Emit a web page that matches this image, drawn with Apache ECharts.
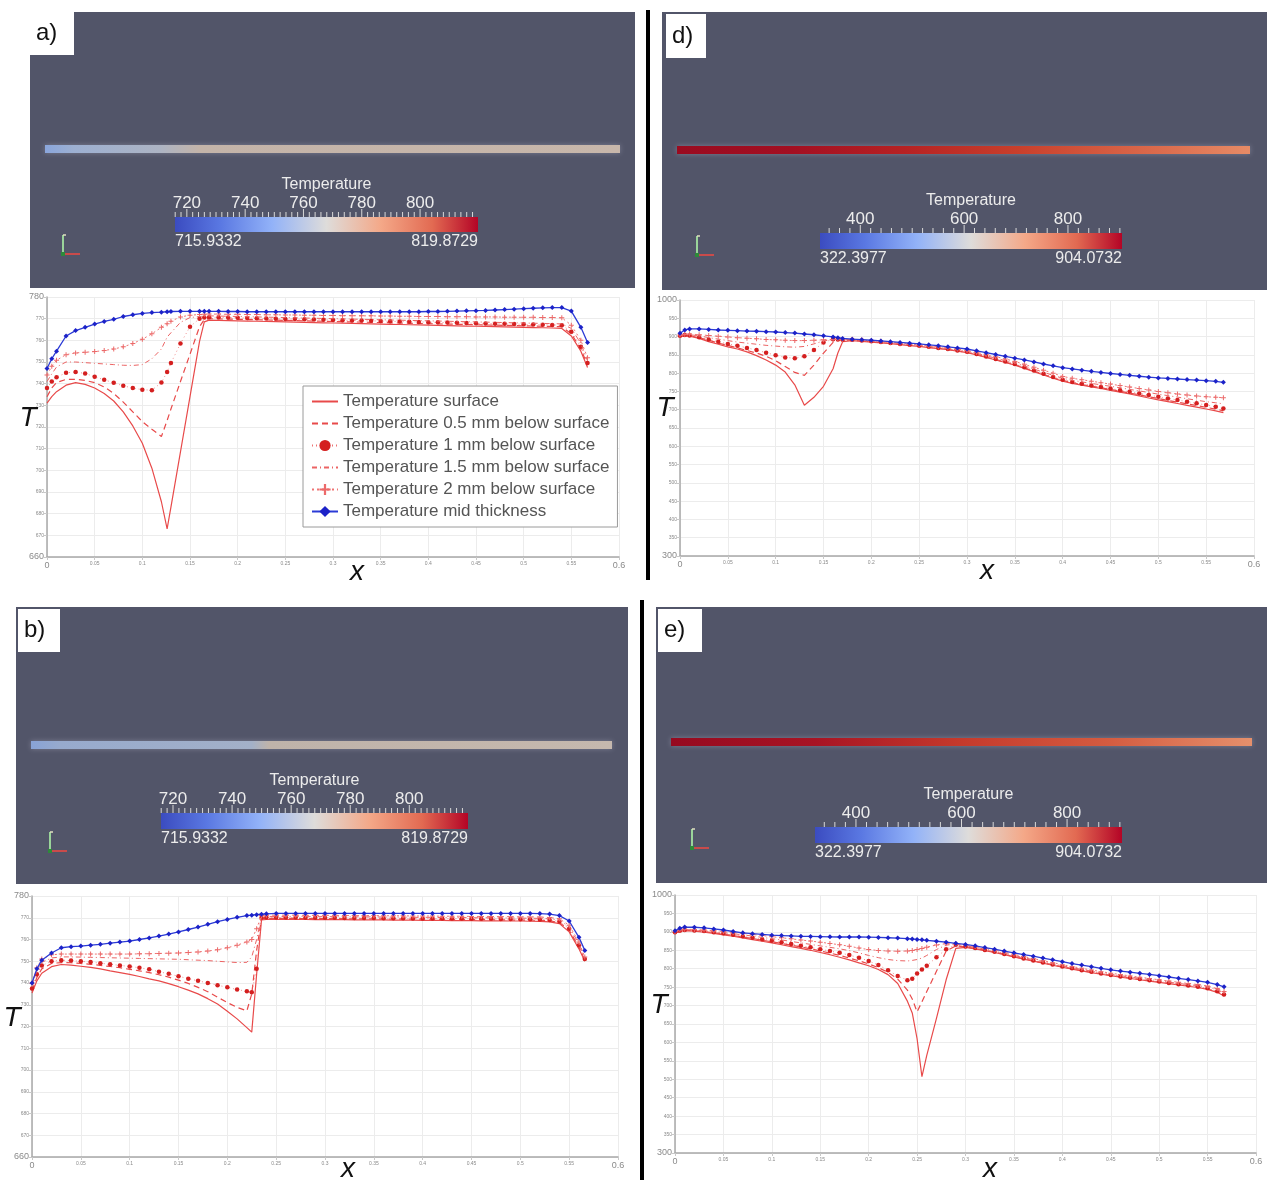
<!DOCTYPE html>
<html><head><meta charset="utf-8">
<script src="https://cdn.jsdelivr.net/npm/echarts/dist/echarts.min.js"></script>
<style>html,body{margin:0;padding:0;background:#fff}#c{width:1271px;height:1180px}</style>
</head><body><div id="c"></div><script>
// ---------------- DATA ----------------
const NAMES = ['Temperature surface','Temperature 0.5 mm below surface','Temperature 1 mm below surface',
  'Temperature 1.5 mm below surface','Temperature 2 mm below surface','Temperature mid thickness'];
const xTicks = [0,0.05,0.1,0.15,0.2,0.25,0.3,0.35,0.4,0.45,0.5,0.55,0.6];
const yTicksAB = [660,670,680,690,700,710,720,730,740,750,760,770,780];
const yTicksDE = [300,350,400,450,500,550,600,650,700,750,800,850,900,950,1000];
const cbTicksAB = [720,740,760,780,800];
const cbRangeAB = [715.9332, 819.8729];
const cbTicksDE = [400,600,800];
const cbRangeDE = [322.3977, 904.0732];

// panel a
const aX = [0,0.005,0.01,0.02,0.03,0.04,0.05,0.06,0.07,0.08,0.09,0.10,0.11,0.12,
 0.126,0.13,0.14,0.15,0.16,0.165,
 0.17,0.18,0.19,0.20,0.21,0.22,0.23,0.24,0.25,0.26,
 0.27,0.28,0.29,0.30,0.31,0.32,0.33,0.34,0.35,0.36,
 0.37,0.38,0.39,0.40,0.41,0.42,0.43,0.44,0.45,0.46,
 0.47,0.48,0.49,0.50,0.51,0.52,0.53,0.54,0.55,0.56,0.567];
const aSurf = [731,734,736.3,739.3,740.5,739.7,738,735.5,732,727,720.5,712.5,701,685.5,
 673,683,708.5,734,759.5,768.5,
 769.3,769.2,769.1,769,768.9,768.8,768.7,768.6,768.5,768.4,
 768.3,768.2,768.1,768,767.9,767.8,767.7,767.6,767.5,767.4,
 767.3,767.2,767.1,767,766.9,766.8,766.7,766.6,766.5,766.4,
 766.3,766.2,766.1,766,765.9,765.8,765.7,765.5,762,755,747.5];
const a05 = [734,738,740.5,742,742,741.5,740.5,738.5,735.5,731.5,727,722.5,719,715.6,
 723,728.3,741,753.6,766.3,769.6,
 770,769.9,769.8,769.7,769.6,769.5,769.4,769.3,769.2,769.1,
 769,768.9,768.8,768.7,768.6,768.5,768.4,768.3,768.2,768.1,
 768,767.9,767.8,767.7,767.6,767.5,767.4,767.3,767.2,767.1,
 767,766.9,766.8,766.7,766.6,766.5,766.4,766.3,763,756,748.5];
const a1 = [738,741,743,745,745.4,744.7,743.2,741.8,740.4,739,738,737.2,737,740.5,
 745.4,749.5,758.5,766.3,770,770.5,
 770.7,770.6,770.5,770.4,770.3,770.2,770.1,770,769.9,769.8,
 769.7,769.6,769.5,769.4,769.3,769.2,769.1,769,768.9,768.8,
 768.7,768.6,768.5,768.4,768.3,768.2,768.1,768,767.9,767.8,
 767.7,767.6,767.5,767.4,767.3,767.2,767.1,767,764,757,749.5];
const a15 = [741,744.5,747.7,750,750,749.7,749.4,749.1,748.8,748.5,748.4,748.8,751.5,756,
 761.5,763.5,768.3,770.5,771,771.2,
 771.3,771.2,771.1,771,770.9,770.8,770.7,770.6,770.5,770.4,
 770.3,770.2,770.1,770,769.9,769.8,769.7,769.6,769.5,769.4,
 769.3,769.2,769.1,769,768.9,768.8,768.7,768.6,768.5,768.4,
 768.3,768.2,768.1,768,767.9,767.8,767.7,767.6,765.5,758.5,750.5];
const a2 = [744,748,750.8,753.4,754.2,754.5,754.8,755.3,756,757,758.5,760.5,763,766,
 767.7,768.8,770.8,771.6,771.9,772,
 772.1,772.1,772,772,771.9,771.9,771.8,771.8,771.7,771.7,
 771.6,771.6,771.5,771.5,771.4,771.4,771.3,771.3,771.2,771.2,
 771.1,771.1,771,771,771,770.9,770.9,770.9,770.8,770.8,
 770.8,770.7,770.7,770.6,770.6,770.5,770.5,770.4,767,760,752];
const aMid = [747,751.5,755,762,764.5,766,767.5,768.7,769.7,771,771.8,772.4,772.8,773,
 773.2,773.3,773.4,773.4,773.4,773.4,
 773.4,773.4,773.3,773.3,773.2,773.2,773.2,773.2,773.2,773.2,
 773.2,773.2,773.2,773.2,773.2,773.2,773.2,773.2,773.2,773.2,
 773.2,773.2,773.2,773.3,773.3,773.4,773.5,773.6,773.7,773.8,
 774,774.2,774.4,774.6,774.8,775,775.1,775.1,773.5,766,759];

// panel b
const bX = [0,0.005,0.01,0.02,0.03,0.04,0.05,0.06,0.07,0.08,0.09,0.10,0.11,0.12,
 0.13,0.14,0.15,0.16,0.17,0.18,0.19,0.20,0.21,0.22,
 0.225,0.23,0.235,
 0.24,0.25,0.26,0.27,0.28,0.29,0.30,0.31,0.32,0.33,
 0.34,0.35,0.36,0.37,0.38,0.39,0.40,0.41,0.42,0.43,
 0.44,0.45,0.46,0.47,0.48,0.49,0.50,0.51,0.52,0.53,0.54,0.55,0.56,0.566];
const bSurf = [735.4,741,744.5,747.5,748.5,748.2,747.7,747.2,746.5,745.6,744.8,744,743,741.9,
 741,739.7,738.3,736.7,735,732.8,730.3,727,723.5,719.5,
 717.4,744,769,
 769.2,769.2,769.2,769.2,769.2,769.1,769.1,769.1,769.1,769,
 769,769,769,768.9,768.9,768.9,768.8,768.8,768.8,768.7,
 768.7,768.7,768.6,768.6,768.6,768.5,768.5,768.4,768.3,768.1,767.3,763.5,755.7,750];
const b05 = [736.5,742.5,746.5,749,749.4,749.3,749,748.6,748.1,747.6,747,746.3,745.6,744.8,
 743.8,742.7,741.3,739.8,738,736,733.5,731,728.8,727.2,
 735,755,769.6,
 769.7,769.7,769.7,769.7,769.6,769.6,769.6,769.6,769.5,769.5,
 769.5,769.5,769.4,769.4,769.4,769.3,769.3,769.3,769.2,769.2,
 769.2,769.1,769.1,769.1,769,769,768.9,768.9,768.8,768.6,767.8,764.3,756.5,750.5];
const b1 = [737.5,744,748,750,750.5,750.3,750,749.6,749.1,748.6,748.1,747.6,747,746.3,
 745.2,744.2,743.1,742,741,740,739,738,737,736.2,
 735.8,746.5,770,
 770.1,770.1,770.1,770.1,770,770,770,770,769.9,769.9,
 769.9,769.9,769.8,769.8,769.8,769.7,769.7,769.7,769.6,769.6,
 769.6,769.5,769.5,769.5,769.4,769.4,769.3,769.3,769.2,769,768.3,765,757.3,751];
const b15 = [739,745.5,749.5,751.5,752,752,751.9,751.8,751.7,751.6,751.5,751.4,751.3,751.2,
 751.1,751,750.9,750.7,750.5,750.3,750,749.7,749.4,749.5,
 752,760,770.5,
 770.6,770.6,770.6,770.6,770.5,770.5,770.5,770.5,770.4,770.4,
 770.4,770.4,770.3,770.3,770.3,770.2,770.2,770.2,770.1,770.1,
 770.1,770,770,770,769.9,769.9,769.8,769.8,769.7,769.5,768.9,765.8,758,751.5];
const b2 = [740,747,751,753,753.3,753.3,753.3,753.3,753.3,753.3,753.3,753.3,753.4,753.5,
 753.6,753.7,753.8,754,754.3,754.7,755.3,756.2,757.4,758.9,
 760,765,771,
 771.2,771.2,771.2,771.2,771.1,771.1,771.1,771.1,771,771,
 771,771,770.9,770.9,770.9,770.8,770.8,770.8,770.7,770.7,
 770.7,770.6,770.6,770.6,770.5,770.5,770.4,770.4,770.3,770.1,769.5,766.6,758.8,752];
const bMid = [740,746.5,750.5,753.8,756.2,756.7,757,757.4,757.8,758.3,758.8,759.3,760,760.7,
 761.6,762.5,763.5,764.6,765.7,767,768.2,769.2,770.2,771,
 771.2,771.4,771.6,
 771.8,772,772,772,772,772,772,772,772,772,
 772,772,772,772,772,772,772,772,772,772,
 772,772,772,772,772,772,772,772,771.9,771.7,771,768.5,761,755];

// panel d
const dX = [0,0.005,0.01,0.02,0.03,0.04,0.05,0.06,0.07,0.08,0.09,0.10,0.11,0.12,
 0.13,0.14,0.15,0.16,0.165,
 0.17,0.18,0.19,0.20,0.21,0.22,0.23,0.24,0.25,0.26,
 0.27,0.28,0.29,0.30,0.31,0.32,0.33,0.34,0.35,0.36,
 0.37,0.38,0.39,0.40,0.41,0.42,0.43,0.44,0.45,0.46,
 0.47,0.48,0.49,0.50,0.51,0.52,0.53,0.54,0.55,0.56,0.568];
const dSurf = [900,902,901,895,886,879,872,866,858,848,836,822,803,768,
 712,734,764,812,855,
 886,889,887,885,883,880.5,878,875.5,873,870,
 867,864,860,856,850,843,836,829,822,813,
 804,795,786,778,772,767,762.5,758,753,748,
 743,737.5,732,727,722,717,712,707,702,697,692];
const d05 = [901,903,902,897,890,882,876,869,862,855,846,834,818,802,
 794,822,855,884,890,
 891,890,888,886,884,881.5,879,876.5,874,871,
 868,865,861,857,851,844,837,830,823.5,814.5,
 805.5,796.5,787.5,780,774,769,764.5,760,755.5,750.5,
 745.5,740.5,735.5,730.5,725.5,721,716,711.5,706.5,701.5,697];
const d1 = [902,904,903,898,892,886,880,875,869,863,856,849,843,841,
 846,863,884,893,892,
 891,891,889,887,885,882.5,880,877.5,875,872,
 869,866,862,858.5,852.5,845.5,838.5,831.5,825,816,
 807,798,789.5,782,776,771,766.5,762,758,753.5,
 749,744.5,740,735.5,731,726.5,722,717.5,713,708,703];
const d15 = [903,905,905,902,897,893,889,885,882,879,876,874,872,871,
 873,880,888,892,892,
 892,892,890,888,886,883.5,881,878.5,876,873,
 870,867,863.5,860,854,847.5,841,834,828,819.5,
 811,802.5,794,786,780.5,776,772,768,764,760,
 755.5,751.5,747,742.5,738.5,734.5,730,726,722,719,716];
const d2 = [904,906,907,905,903,901,899,897,895.5,894,892,891,890,889,
 889,890,891,892,892.5,
 893,893,891,889,887,884.5,882,879.5,877,874.5,
 872,869,866,862,857,851,845,839,832,824,
 816,808,800,791,786,782,778,774,770,766,
 762,758,754,750,746.5,743,740,737.5,735.5,734,733];
const dMid = [909,918,921,921,919.5,918,917,916,915,914.5,913.5,912.5,911,909.5,
 907,905,902,899,897,
 895,893,891.5,890,888,886,884,882,880,877.5,
 875,872,869,866,861,856,851,846,841,836,
 830.5,825,820,815,811.5,808,805,802,799,796.5,
 794,791.5,789,787,785.5,784,782.5,781,779.5,777.5,775];

// panel e
const eX = [0,0.005,0.01,0.02,0.03,0.04,0.05,0.06,0.07,0.08,0.09,0.10,0.11,0.12,
 0.13,0.14,0.15,0.16,0.17,0.18,0.19,0.20,0.21,0.22,0.23,0.24,
 0.245,0.25,0.255,
 0.26,0.27,0.28,0.29,0.30,0.31,0.32,0.33,0.34,0.35,
 0.36,0.37,0.38,0.39,0.40,0.41,0.42,0.43,0.44,0.45,
 0.46,0.47,0.48,0.49,0.50,0.51,0.52,0.53,0.54,0.55,0.56,0.567];
const eSurf = [897,901,903,902,899,896,892,888,883.5,879,874.5,870,865,860,
 855,850,844,838,831,824,816,808,798,784,760,712,
 680,610,507,
 565,665,770,855,858,854,849,844,838,832,
 826,820.5,815,809.5,804,799,794,789.5,785,781,
 777,773.5,770,766.5,763,759.5,756,752.5,749,744,736,726];
const e05 = [898,902,904,903,900.5,897.5,894,890,886,882,877.5,873,868.5,864,
 859,854,848.5,842.5,836,829,821.5,813,803,790,772,742,
 718,683,710,
 738,793,848,862,859,855,850,845,839,833,
 827,821.5,816,810.5,805,800,795,790.5,786,782,
 778,774.5,771,767.5,764,760.5,757,753.5,750,745.5,737.5,728];
const e1 = [899,903,905,904,902,899,896,892,888,884,880,876,871.5,867,
 862.5,858,853,848,843,837,830,821,810,796,780,769,
 773,787,798,
 808,831,853,865,860,856,851,846,840,834,
 828,822.5,817,811.5,806,801,796,791.5,787,783,
 779,775.5,772,768.5,765,761.5,758,754.5,751,747,739,730];
const e15 = [900,904,906,905,903,900.5,898,895,892,888.5,885,881.5,878,874,
 870,866,862,858,854,849,843,836,830,825,822,821,
 822.5,825,829,
 836,852,864,867,862,858,853,848,842,836,
 830,824.5,819,813.5,808,803,798,793.5,789,785,
 781,777.5,774,770.5,767,763.5,760,757,754,750,743,734];
const e2 = [901,905,907,906.5,905,903,901,898.5,896,893,890,887,884,881,
 878,875,872,868.5,865,861,856,852,849.5,848,847.5,848,
 849.5,852,855,
 858.5,864.5,868,868,864,860,855.5,850.5,845,839,
 833,827.5,822,816.5,811,806,801,796.5,792,788,
 784,780.5,777,773.5,770,766.5,763,760,757,753,746,738];
const eMid = [903,910,913,912.5,911,908,905,901,897.5,895,893,891,890,889,
 888,887.5,887,886.5,886,886,886,885.5,885,884,883,881.5,
 880.5,879.5,878.5,
 877,874.5,872,869,866,862,857.5,853,848,843,
 838.5,834,829,824,819,814,810,805.5,801,797,
 793.5,790.5,787.5,784.5,781,777.5,774,770.5,767,763,757,751];

// ---------------- BUILD ----------------
const PANELS = [
  {x:aX, ys:[aSurf,a05,a1,a15,a2,aMid], yT:yTicksAB},
  {x:bX, ys:[bSurf,b05,b1,b15,b2,bMid], yT:yTicksAB},
  {x:dX, ys:[dSurf,d05,d1,d15,d2,dMid], yT:yTicksDE},
  {x:eX, ys:[eSurf,e05,e1,e15,e2,eMid], yT:yTicksDE}
];
const GRIDS = [
  {left:47, top:297, width:572, height:260},
  {left:32, top:896, width:586, height:261},
  {left:680, top:300, width:574, height:256},
  {left:675, top:895, width:581, height:258}
];
const PLUS = 'path://M4,0L6,0L6,4L10,4L10,6L6,6L6,10L4,10L4,6L0,6L0,4L4,4Z';
function sStyle(k){
  switch(k){
    case 0: return {symbol:'none', lineStyle:{color:'#e84a4a', width:1.2, type:'solid'}, itemStyle:{color:'#e84a4a'}};
    case 1: return {symbol:'none', lineStyle:{color:'#e84a4a', width:1.2, type:[6,4]}, itemStyle:{color:'#e84a4a'}};
    case 2: return {symbol:'circle', symbolSize:4.5, lineStyle:{color:'#ee7272', width:0.8, type:[1,3]}, itemStyle:{color:'#d41f1f'}};
    case 3: return {symbol:'none', lineStyle:{color:'#ec6464', width:1, type:[5,3,1,3]}, itemStyle:{color:'#ec6464'}};
    case 4: return {symbol:PLUS, symbolSize:5, lineStyle:{color:'#ef7474', width:1, type:[2,3]}, itemStyle:{color:'#ec6a6a'}};
    default: return {symbol:'diamond', symbolSize:5, lineStyle:{color:'#2b3bd6', width:1.3}, itemStyle:{color:'#1c22c8'}};
  }
}
const series = [];
const warn = [];
PANELS.forEach((p, gi) => {
  p.ys.forEach((ys, k) => {
    if (ys.length !== p.x.length) warn.push('P'+gi+' S'+k+' '+ys.length+'/'+p.x.length);
    series.push(Object.assign({
      type:'line', name:NAMES[k], xAxisIndex:gi, yAxisIndex:gi,
      data:p.x.map((x,i)=>[x, ys[i]]), showSymbol: k===2||k===4||k===5,
      animation:false, silent:true, z: 2 + k
    }, sStyle(k)));
  });
});

function endFmt(min, max, dec){
  return function(v){
    const s = String(Math.round(v*Math.pow(10,dec))/Math.pow(10,dec));
    return (Math.abs(v-min)<1e-9 || Math.abs(v-max)<1e-9) ? '{b|'+s+'}' : '{s|'+s+'}';
  };
}
const labRich = {s:{fontSize:5, color:'#8a8a8a', fontFamily:'Liberation Sans'}, b:{fontSize:9, color:'#8a8a8a', fontFamily:'Liberation Sans'}};
const xAxes = GRIDS.map((g,i)=>({
  type:'value', gridIndex:i, min:xTicks[0], max:xTicks[xTicks.length-1], interval:xTicks[1]-xTicks[0],
  axisLine:{show:true, onZero:false, lineStyle:{color:'#a8a8a8', width:1.5}},
  axisTick:{show:true, length:3, lineStyle:{color:'#c8c8c8'}},
  axisLabel:{margin:4, formatter:endFmt(xTicks[0], xTicks[xTicks.length-1], 2), rich:labRich},
  splitLine:{show:true, lineStyle:{color:'#ececec', width:1}}
}));
const yAxes = PANELS.map((p,i)=>({
  type:'value', gridIndex:i, min:p.yT[0], max:p.yT[p.yT.length-1], interval:p.yT[1]-p.yT[0],
  axisLine:{show:true, onZero:false, lineStyle:{color:'#a8a8a8', width:1.5}},
  axisTick:{show:true, length:3, lineStyle:{color:'#c8c8c8'}},
  axisLabel:{margin:3, formatter:endFmt(p.yT[0], p.yT[p.yT.length-1], 0), rich:labRich},
  splitLine:{show:true, lineStyle:{color:'#ececec', width:1}}
}));

// ---------------- GRAPHICS (render views) ----------------
const G = [];
const FONT = '"Liberation Sans", Arial, sans-serif';
function rect(x,y,w,h,fill,z,extra){G.push(Object.assign({type:'rect', shape:{x:x,y:y,width:w,height:h}, style:{fill:fill}, z:z||1, silent:true}, extra||{}));}
function line(x1,y1,x2,y2,stroke,w){G.push({type:'line', shape:{x1:x1,y1:y1,x2:x2,y2:y2}, style:{stroke:stroke, lineWidth:w}, z:6, silent:true});}
function text(x,y,t,size,fill,align,italic){
  G.push({type:'text', x:x, y:y, z:10, silent:true, style:{text:t, fill:fill,
    font:(italic?'italic ':'')+size+'px '+FONT, align:align||'left', verticalAlign:'middle',
    textAlign:align||'left', textVerticalAlign:'middle'}});
}
function grad(stops){return {type:'linear', x:0, y:0, x2:1, y2:0, colorStops:stops.map(s=>({offset:s[0], color:s[1]}))};}
const COOLWARM = [[0,'#3b4cc0'],[0.15,'#5a78e2'],[0.32,'#92b2f8'],[0.5,'#dedcda'],[0.68,'#f4a888'],[0.85,'#e26a52'],[1,'#b40426']];

const VIEWS = [
  {lab:'a)', bg:[30,12,605,276], box:[30,12,44,43], strip:[45,145,575,8],
   stops:[[0,'#8aa6dc'],[0.05,'#9db0d2'],[0.2,'#adb4c4'],[0.27,'#c4b4a9'],[1,'#c8b7ab']],
   cb:[175,217,303,15], ticks:cbTicksAB, range:cbRangeAB, minor:2, major:20, triad:[63,235]},
  {lab:'b)', bg:[16,607,612,277], box:[18,609,42,43], strip:[31,741,581,8],
   stops:[[0,'#88a3d6'],[0.05,'#97aacd'],[0.38,'#a3b0c8'],[0.41,'#bfb3aa'],[1,'#c5b8ae']],
   cb:[161,813,307,16], ticks:cbTicksAB, range:cbRangeAB, minor:2, major:20, triad:[50,832]},
  {lab:'d)', bg:[662,12,605,278], box:[666,14,40,44], strip:[677,146,573,8],
   stops:[[0,'#9a0b20'],[0.2,'#a30f22'],[0.4,'#b72223'],[0.6,'#c9402c'],[0.85,'#dc6d4e'],[1,'#e68b66']],
   cb:[820,233,302,16], ticks:cbTicksDE, range:cbRangeDE, minor:20, major:200, triad:[697,236]},
  {lab:'e)', bg:[656,607,611,276], box:[658,609,44,43], strip:[671,738,581,8],
   stops:[[0,'#960a20'],[0.25,'#a81424'],[0.5,'#c53a2c'],[0.75,'#d45b40'],[1,'#e5906c']],
   cb:[815,827,307,16], ticks:cbTicksDE, range:cbRangeDE, minor:20, major:200, triad:[692,829]}
];
VIEWS.forEach(v=>{
  rect(v.bg[0],v.bg[1],v.bg[2],v.bg[3],'#525569',1);
  rect(v.box[0],v.box[1],v.box[2],v.box[3],'#ffffff',2);
  text(v.box[0]+6, v.box[1]+v.box[3]/2, v.lab, 24, '#111');
  rect(v.strip[0],v.strip[1],v.strip[2],v.strip[3], grad(v.stops), 3, {style:{fill:grad(v.stops), shadowBlur:5, shadowColor:'rgba(200,200,220,0.35)'}});
  const [cx,cy,cw,ch] = v.cb;
  rect(cx,cy,cw,ch, grad(COOLWARM), 3);
  const r0 = v.range[0], r1 = v.range[1];
  const px = t => cx + (t - r0)/(r1 - r0)*cw;
  const first = Math.ceil(r0/v.minor)*v.minor;
  for (let t = first; t <= r1; t += v.minor) {
    const isMajor = Math.abs(t/v.major - Math.round(t/v.major)) < 1e-6;
    line(px(t), cy - (isMajor?8:5), px(t), cy, '#d8d8d8', 1);
  }
  v.ticks.forEach(t => text(px(t), cy-14, String(t), 17, '#ececec', 'center'));
  text(cx+cw/2, cy-32, 'Temperature', 16, '#ececec', 'center');
  text(cx, cy+ch+10, r0.toFixed(4), 16, '#ececec', 'left');
  text(cx+cw, cy+ch+10, r1.toFixed(4), 16, '#ececec', 'right');
  const [tx,ty] = v.triad;
  line(tx,ty,tx,ty+19,'#9ad49a',2);
  line(tx,ty,tx+3,ty,'#e0e0c0',1.5);
  line(tx,ty+19,tx+17,ty+19,'#c94b4b',2);
  rect(tx-2,ty+17,4,4,'#2d8a3a',7);
});
// separators
rect(646,10,4,570,'#000',1);
rect(640,600,4,580,'#000',1);
// axis titles
[[28,418],[12,1018],[665,408],[659,1005]].forEach(p=>text(p[0],p[1],'T',28,'#111','center',true));
[[357,572],[348,1169],[987,571],[990,1169]].forEach(p=>text(p[0],p[1],'x',28,'#111','center',true));
warn.forEach((w,i)=>text(300, 600+i*14, 'LEN '+w, 12, '#f00'));

// legend entries: series drawn without markers get a line-only icon
const legendData = NAMES.map((n,k)=> (k===0||k===1||k===3) ? {name:n, itemStyle:{opacity:0}} : {name:n});

const chart = echarts.init(document.getElementById('c'), null, {renderer:'canvas'});
chart.setOption({
  animation:false,
  backgroundColor:'#ffffff',
  grid:GRIDS,
  xAxis:xAxes,
  yAxis:yAxes,
  legend:{
    show:true, orient:'vertical', left:303, top:386, selectedMode:false,
    backgroundColor:'#ffffff', borderColor:'#9a9a9a', borderWidth:1,
    padding:[7,8,7,8], itemGap:5, itemWidth:26, itemHeight:14,
    textStyle:{fontSize:17, color:'#555', fontFamily:FONT},
    data:legendData
  },
  graphic:G,
  series:series
});
</script></body></html>
